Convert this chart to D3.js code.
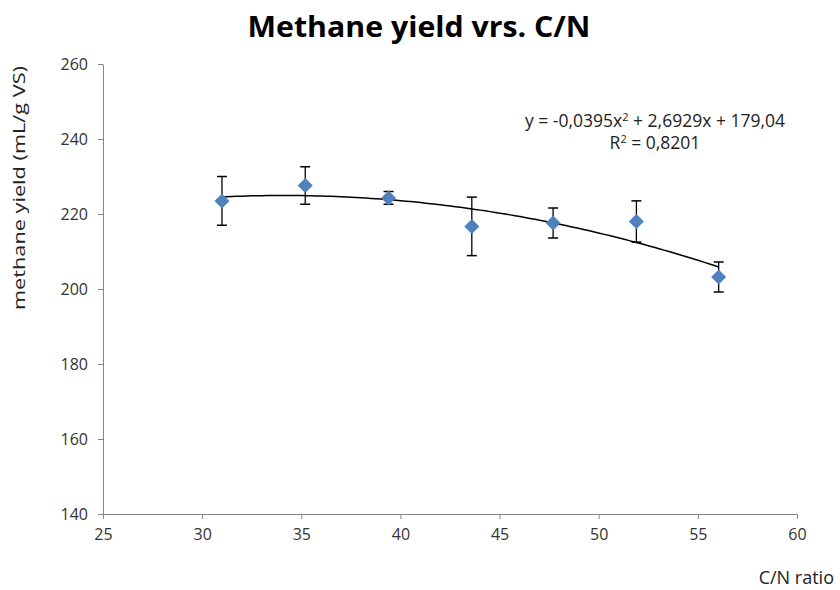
<!DOCTYPE html>
<html>
<head>
<meta charset="utf-8">
<script src="https://cdn.jsdelivr.net/npm/d3@7"></script>
<style>
  body { margin: 0; background: #fff; }
  text { font-family: "Open Sans", sans-serif; }
</style>
</head>
<body>
<script>
// C/N ratio and methane yield (mL/g VS), error = +/- std
var cnRatio = [31.0, 35.2, 39.4, 43.6, 47.7, 51.9, 56.05];
var yieldVals = [223.5, 227.6, 224.3, 216.7, 217.6, 218.0, 203.2];
var yieldErr = [6.5, 5.0, 1.7, 7.8, 4.0, 5.5, 4.0];
var xTicks = [25, 30, 35, 40, 45, 50, 55, 60];
var yTicks = [140, 160, 180, 200, 220, 240, 260];
var coef = [-0.0395, 2.6929, 179.04];

var WIDTH = 840, HEIGHT = 590;

var svg = d3.select('body').append('svg')
            .attr('width', WIDTH)
            .attr('height', HEIGHT);

var x = d3.scaleLinear().domain([25, 60]).range([103, 797]);
var y = d3.scaleLinear().domain([140, 260]).range([514, 64]);

svg.append('text')
   .attr('x', 419).attr('y', 37)
   .attr('text-anchor', 'middle')
   .attr('font-size', 29).attr('font-weight', 'bold')
   .attr('textLength', 343).attr('lengthAdjust', 'spacingAndGlyphs')
   .text('Methane yield vrs. C/N');

var xAxis = svg.append('g')
   .attr('transform', 'translate(0,514)')
   .call(d3.axisBottom(x).tickValues(xTicks).tickSize(5).tickPadding(10).tickSizeOuter(0));
var yAxis = svg.append('g')
   .attr('transform', 'translate(103,0)')
   .call(d3.axisLeft(y).tickValues(yTicks).tickSize(5).tickPadding(10).tickSizeOuter(0));

[xAxis, yAxis].forEach(function(ax) {
  ax.select('.domain').attr('stroke', '#868686');
  ax.selectAll('.tick line').attr('stroke', '#868686');
  ax.selectAll('.tick text').attr('font-size', 16).attr('fill', '#333')
    .style('font-family', '"Open Sans", sans-serif');
});

svg.append('text')
   .attr('transform', 'translate(25,188) rotate(-90)')
   .attr('text-anchor', 'middle')
   .attr('font-size', 16).attr('fill', '#222')
   .attr('textLength', 244).attr('lengthAdjust', 'spacingAndGlyphs')
   .text('methane yield  (mL/g VS)');

svg.append('text')
   .attr('x', 834).attr('y', 584)
   .attr('text-anchor', 'end')
   .attr('font-size', 18).attr('fill', '#222')
   .text('C/N ratio');

// polynomial trendline
var xs = d3.range(0, 101).map(function(i) {
  return cnRatio[0] + (cnRatio[cnRatio.length - 1] - cnRatio[0]) * i / 100;
});
var line = d3.line()
  .x(function(d) { return x(d); })
  .y(function(d) { return y(coef[0] * d * d + coef[1] * d + coef[2]); });
svg.append('path')
   .datum(xs)
   .attr('d', line)
   .attr('fill', 'none')
   .attr('stroke', '#000')
   .attr('stroke-width', 1.5);

// error bars
var eb = svg.selectAll('g.err')
  .data(cnRatio)
  .enter().append('g').attr('class', 'err');
eb.append('line')
  .attr('x1', function(d) { return x(d); })
  .attr('x2', function(d) { return x(d); })
  .attr('y1', function(d, i) { return y(yieldVals[i] + yieldErr[i]); })
  .attr('y2', function(d, i) { return y(yieldVals[i] - yieldErr[i]); })
  .attr('stroke', '#000').attr('stroke-width', 1.3);
[1, -1].forEach(function(s) {
  eb.append('line')
    .attr('x1', function(d) { return x(d) - 5; })
    .attr('x2', function(d) { return x(d) + 5; })
    .attr('y1', function(d, i) { return y(yieldVals[i] + s * yieldErr[i]); })
    .attr('y2', function(d, i) { return y(yieldVals[i] + s * yieldErr[i]); })
    .attr('stroke', '#000').attr('stroke-width', 1.5);
});

// diamond markers
svg.selectAll('path.pt')
   .data(cnRatio)
   .enter().append('path')
   .attr('class', 'pt')
   .attr('d', 'M0,-7.5L7.5,0L0,7.5L-7.5,0Z')
   .attr('transform', function(d, i) { return 'translate(' + x(d) + ',' + y(yieldVals[i]) + ')'; })
   .attr('fill', '#4F81BD');

// equation label
svg.append('text')
   .attr('x', 655).attr('y', 127)
   .attr('text-anchor', 'middle')
   .attr('font-size', 17.5).attr('fill', '#222')
   .html('y = -0,0395x<tspan dy="-6" font-size="11">2</tspan><tspan dy="6"> + 2,6929x + 179,04</tspan>');
svg.append('text')
   .attr('x', 655).attr('y', 149)
   .attr('text-anchor', 'middle')
   .attr('font-size', 17.5).attr('fill', '#222')
   .html('R<tspan dy="-6" font-size="11">2</tspan><tspan dy="6"> = 0,8201</tspan>');
</script>
</body>
</html>
